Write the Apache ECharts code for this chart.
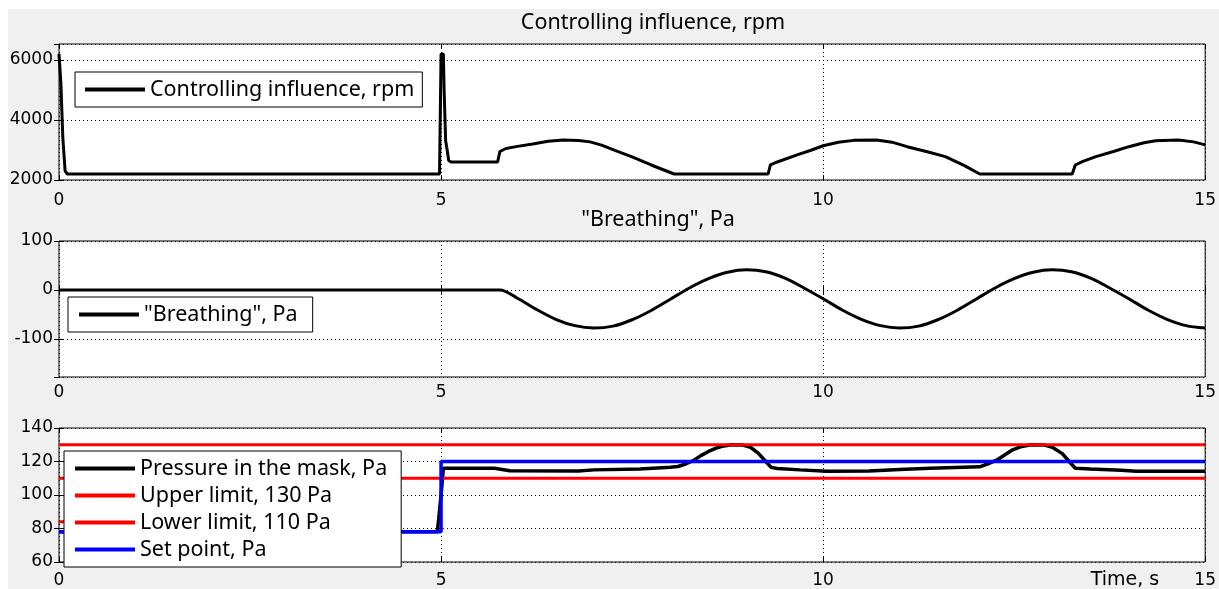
<!DOCTYPE html>
<html><head><meta charset="utf-8">
<script src="https://cdn.jsdelivr.net/npm/echarts@6/dist/echarts.min.js"></script>
<style>html,body{margin:0;padding:0;background:#fff}#c{width:1219px;height:589px}</style>
</head><body><div id="c"></div>
<script>
// ---------- data ----------
const timeTicks = [0, 5, 10, 15];

// Panel 1: Controlling influence, rpm  [time s, rpm]
const rpmPoints = [
  [0,6200],[0.02,6200],[0.025,5200],[0.045,5150],[0.05,3400],[0.07,3350],[0.08,2300],[0.11,2200],
  [4.98,2200],[5.0,6200],[5.03,6200],[5.04,5000],[5.06,3300],[5.08,3000],[5.1,2650],[5.13,2600],
  [5.74,2600],[5.77,2950],[5.85,3050],[6.0,3120],[6.2,3200],[6.4,3290],[6.6,3330],[6.8,3315],
  [6.95,3270],[7.1,3160],[7.3,2960],[7.5,2770],[7.75,2500],[8.05,2200],[9.28,2200],[9.31,2500],
  [9.4,2600],[9.65,2830],[9.85,3000],[10.0,3140],[10.2,3260],[10.4,3320],[10.7,3330],[10.9,3260],
  [11.1,3110],[11.35,2950],[11.6,2780],[11.85,2480],[12.05,2200],[13.26,2200],[13.3,2500],
  [13.4,2620],[13.57,2780],[13.8,2950],[14.0,3110],[14.2,3240],[14.35,3310],[14.65,3330],
  [14.85,3270],[15.0,3170]
];

// Panel 2: "Breathing", Pa  [time s, Pa]
const breathPoints = [
  [0,0],[5.77,0],[6.0,-17],[6.25,-40],[6.5,-60],[6.75,-73],[7.0,-78],[7.25,-74],[7.5,-61],
  [7.75,-42],[8.0,-19],[8.25,4],[8.5,23],[8.75,36],[9.0,41],[9.25,37],[9.5,24],[9.75,4],
  [10.0,-18],[10.25,-41],[10.5,-60],[10.75,-73],[11.0,-78],[11.25,-74],[11.5,-61],[11.75,-42],
  [12.0,-19],[12.25,4],[12.5,23],[12.75,36],[13.0,41],[13.25,37],[13.5,24],[13.75,4],
  [14.0,-18],[14.25,-41],[14.5,-60],[14.75,-73],[15.0,-78]
];

// Panel 3: pressure in the mask, limits, set point  [time s, Pa]
const pressurePoints = [
  [0,78],[4.95,78],[4.97,86],[5.0,100],[5.03,116],[5.7,116],[5.9,114.5],[6.8,114.3],[7.0,115],
  [7.6,115.5],[8.0,116.5],[8.1,117],[8.2,118.5],[8.3,120.5],[8.4,123.5],[8.5,126],[8.6,128],
  [8.7,129.3],[8.8,130],[8.95,129.8],[9.05,128.5],[9.15,125],[9.25,120],[9.32,116.5],[9.4,115.8],
  [9.7,115],[10.05,114.2],[10.6,114.3],[11.0,115.2],[11.4,116],[12.05,116.8],[12.15,118.5],
  [12.27,120.8],[12.38,124],[12.48,127],[12.6,129],[12.72,130],[12.9,129.8],[13.0,128.5],
  [13.13,124.7],[13.22,120],[13.3,116],[13.5,115.5],[13.9,114.8],[14.1,114.2],[15.0,114.2]
];
const upperLimitPoints = [[0,130],[15,130]];
const lowerLimitPoints = [[0,110],[15,110]];
const lowerStubPoints = [[0,84],[3,84]];
const setPointPoints = [[0,78],[5.0,78],[5.0,120],[15,120]];

const seriesNames = {
  rpm: 'Controlling influence, rpm',
  breath: '"Breathing", Pa',
  pressure: 'Pressure in the mask, Pa',
  upper: 'Upper limit, 130 Pa',
  lower: 'Lower limit, 110 Pa',
  setp: 'Set point, Pa'
};
const panelTitles = ['Controlling influence, rpm', '"Breathing", Pa'];
const xAxisTitle = 'Time, s';

// ---------- layout / style ----------
const grids = [
  {left:59, top:44, width:1151, height:136},
  {left:59, top:241, width:1151, height:136},
  {left:59, top:428, width:1151, height:136}
];
const tickFont = {fontFamily:'DejaVu Sans', fontSize:17, color:'#000'};
const legendFont = {fontFamily:'Noto Sans', fontSize:21.5, color:'#000', lineHeight:27};
const dotted = {type:[1,3], color:'#000', width:1};
const plainNumber = v => String(v);

function xAxesFor(gi, margin){
  return [
    {gridIndex:gi, type:'value', position:'bottom', min:timeTicks[0], max:timeTicks[timeTicks.length-1], interval:5,
     axisLine:{show:false}, axisTick:{inside:true, length:5, lineStyle:{color:'#000'}},
     axisLabel:Object.assign({margin:margin, formatter:plainNumber}, tickFont), splitLine:{show:true, lineStyle:dotted}},
    {gridIndex:gi, type:'value', position:'top', min:timeTicks[0], max:timeTicks[timeTicks.length-1], interval:5,
     axisLine:{show:false}, axisTick:{inside:true, length:5, lineStyle:{color:'#000'}},
     axisLabel:{show:false}, splitLine:{show:false}}
  ];
}
function yAxesFor(gi, extra){
  const base = {gridIndex:gi, type:'value', axisLine:{show:false},
    axisTick:{inside:true, length:5, lineStyle:{color:'#000'}}};
  return [
    Object.assign({}, base, extra, {position:'left',
      axisLabel:Object.assign({margin:6, formatter:plainNumber,
        showMinLabel:extra.hideMin ? false : true, showMaxLabel:extra.hideMax ? false : true}, tickFont),
      splitLine:{show:true, lineStyle:dotted}}),
    Object.assign({}, base, extra, {position:'right', axisLabel:{show:false}, splitLine:{show:false}})
  ];
}

const xAxes = [].concat(xAxesFor(0, 12), xAxesFor(1, 7), xAxesFor(2, 10));
const yAxes = [].concat(
  yAxesFor(0, {min:2000, max:6530, interval:2000, hideMax:true}),
  yAxesFor(1, {min:-178, max:100, minInterval:100, maxInterval:100, splitNumber:3, hideMin:true}),
  yAxesFor(2, {min:60, max:140, interval:20})
);

function lineSeries(name, gi, data, color, width, z, smooth){
  return {name:name, type:'line', xAxisIndex:gi*2, yAxisIndex:gi*2, data:data,
    showSymbol:false, symbol:'none', animation:false, z:z||2, smooth:smooth||false,
    lineStyle:{color:color, width:width}, itemStyle:{color:color}};
}

const legendCommon = {backgroundColor:'#fff', borderColor:'#000', borderWidth:1, borderRadius:0,
  itemWidth:60, itemHeight:4, itemGap:0, icon:'rect', orient:'vertical', selectedMode:false,
  textStyle:legendFont};

const option = {
  backgroundColor:'#f0f0f0',
  animation:false,
  grid: grids.map(g => Object.assign({show:true, backgroundColor:'#fff', borderColor:'#000', borderWidth:1}, g)),
  xAxis: xAxes,
  yAxis: yAxes,
  legend: [
    Object.assign({}, legendCommon, {data:[seriesNames.rpm], left:75, top:72, padding:[4,8,4,10]}),
    Object.assign({}, legendCommon, {data:[seriesNames.breath], left:68, top:297, padding:[4,15,4,11]}),
    Object.assign({}, legendCommon, {data:[seriesNames.pressure, seriesNames.upper, seriesNames.lower, seriesNames.setp],
      left:64, top:451, padding:[4,14,4,11]})
  ],
  series: [
    lineSeries(seriesNames.rpm, 0, rpmPoints, '#000', 3),
    lineSeries(seriesNames.breath, 1, breathPoints, '#000', 3, 2, 0.3),
    lineSeries(seriesNames.pressure, 2, pressurePoints, '#000', 3.5),
    lineSeries(seriesNames.upper, 2, upperLimitPoints, '#ff0000', 3),
    lineSeries(seriesNames.lower, 2, lowerLimitPoints, '#ff0000', 3),
    lineSeries(seriesNames.lower, 2, lowerStubPoints, '#ff0000', 3),
    lineSeries(seriesNames.setp, 2, setPointPoints, '#0000ff', 3.5, 3)
  ],
  graphic: [
    {type:'rect', silent:true, z:-1, shape:{x:0, y:0, width:1219, height:9}, style:{fill:'#fff'}},
    {type:'rect', silent:true, z:-1, shape:{x:0, y:0, width:8, height:589}, style:{fill:'#fff'}},
    {type:'text', silent:true, x:653, y:23, style:{text:panelTitles[0], fontFamily:'Noto Sans', fontSize:21.5, fill:'#000', align:'center', verticalAlign:'middle'}},
    {type:'text', silent:true, x:658, y:220, style:{text:panelTitles[1], fontFamily:'Noto Sans', fontSize:21.5, fill:'#000', align:'center', verticalAlign:'middle'}},
    {type:'text', silent:true, x:1125, y:580, style:{text:xAxisTitle, fontFamily:'DejaVu Sans', fontSize:19, fill:'#000', align:'center', verticalAlign:'middle'}}
  ]
};

const chart = echarts.init(document.getElementById('c'), null, {renderer:'canvas'});
chart.setOption(option);
</script>
</body></html>
